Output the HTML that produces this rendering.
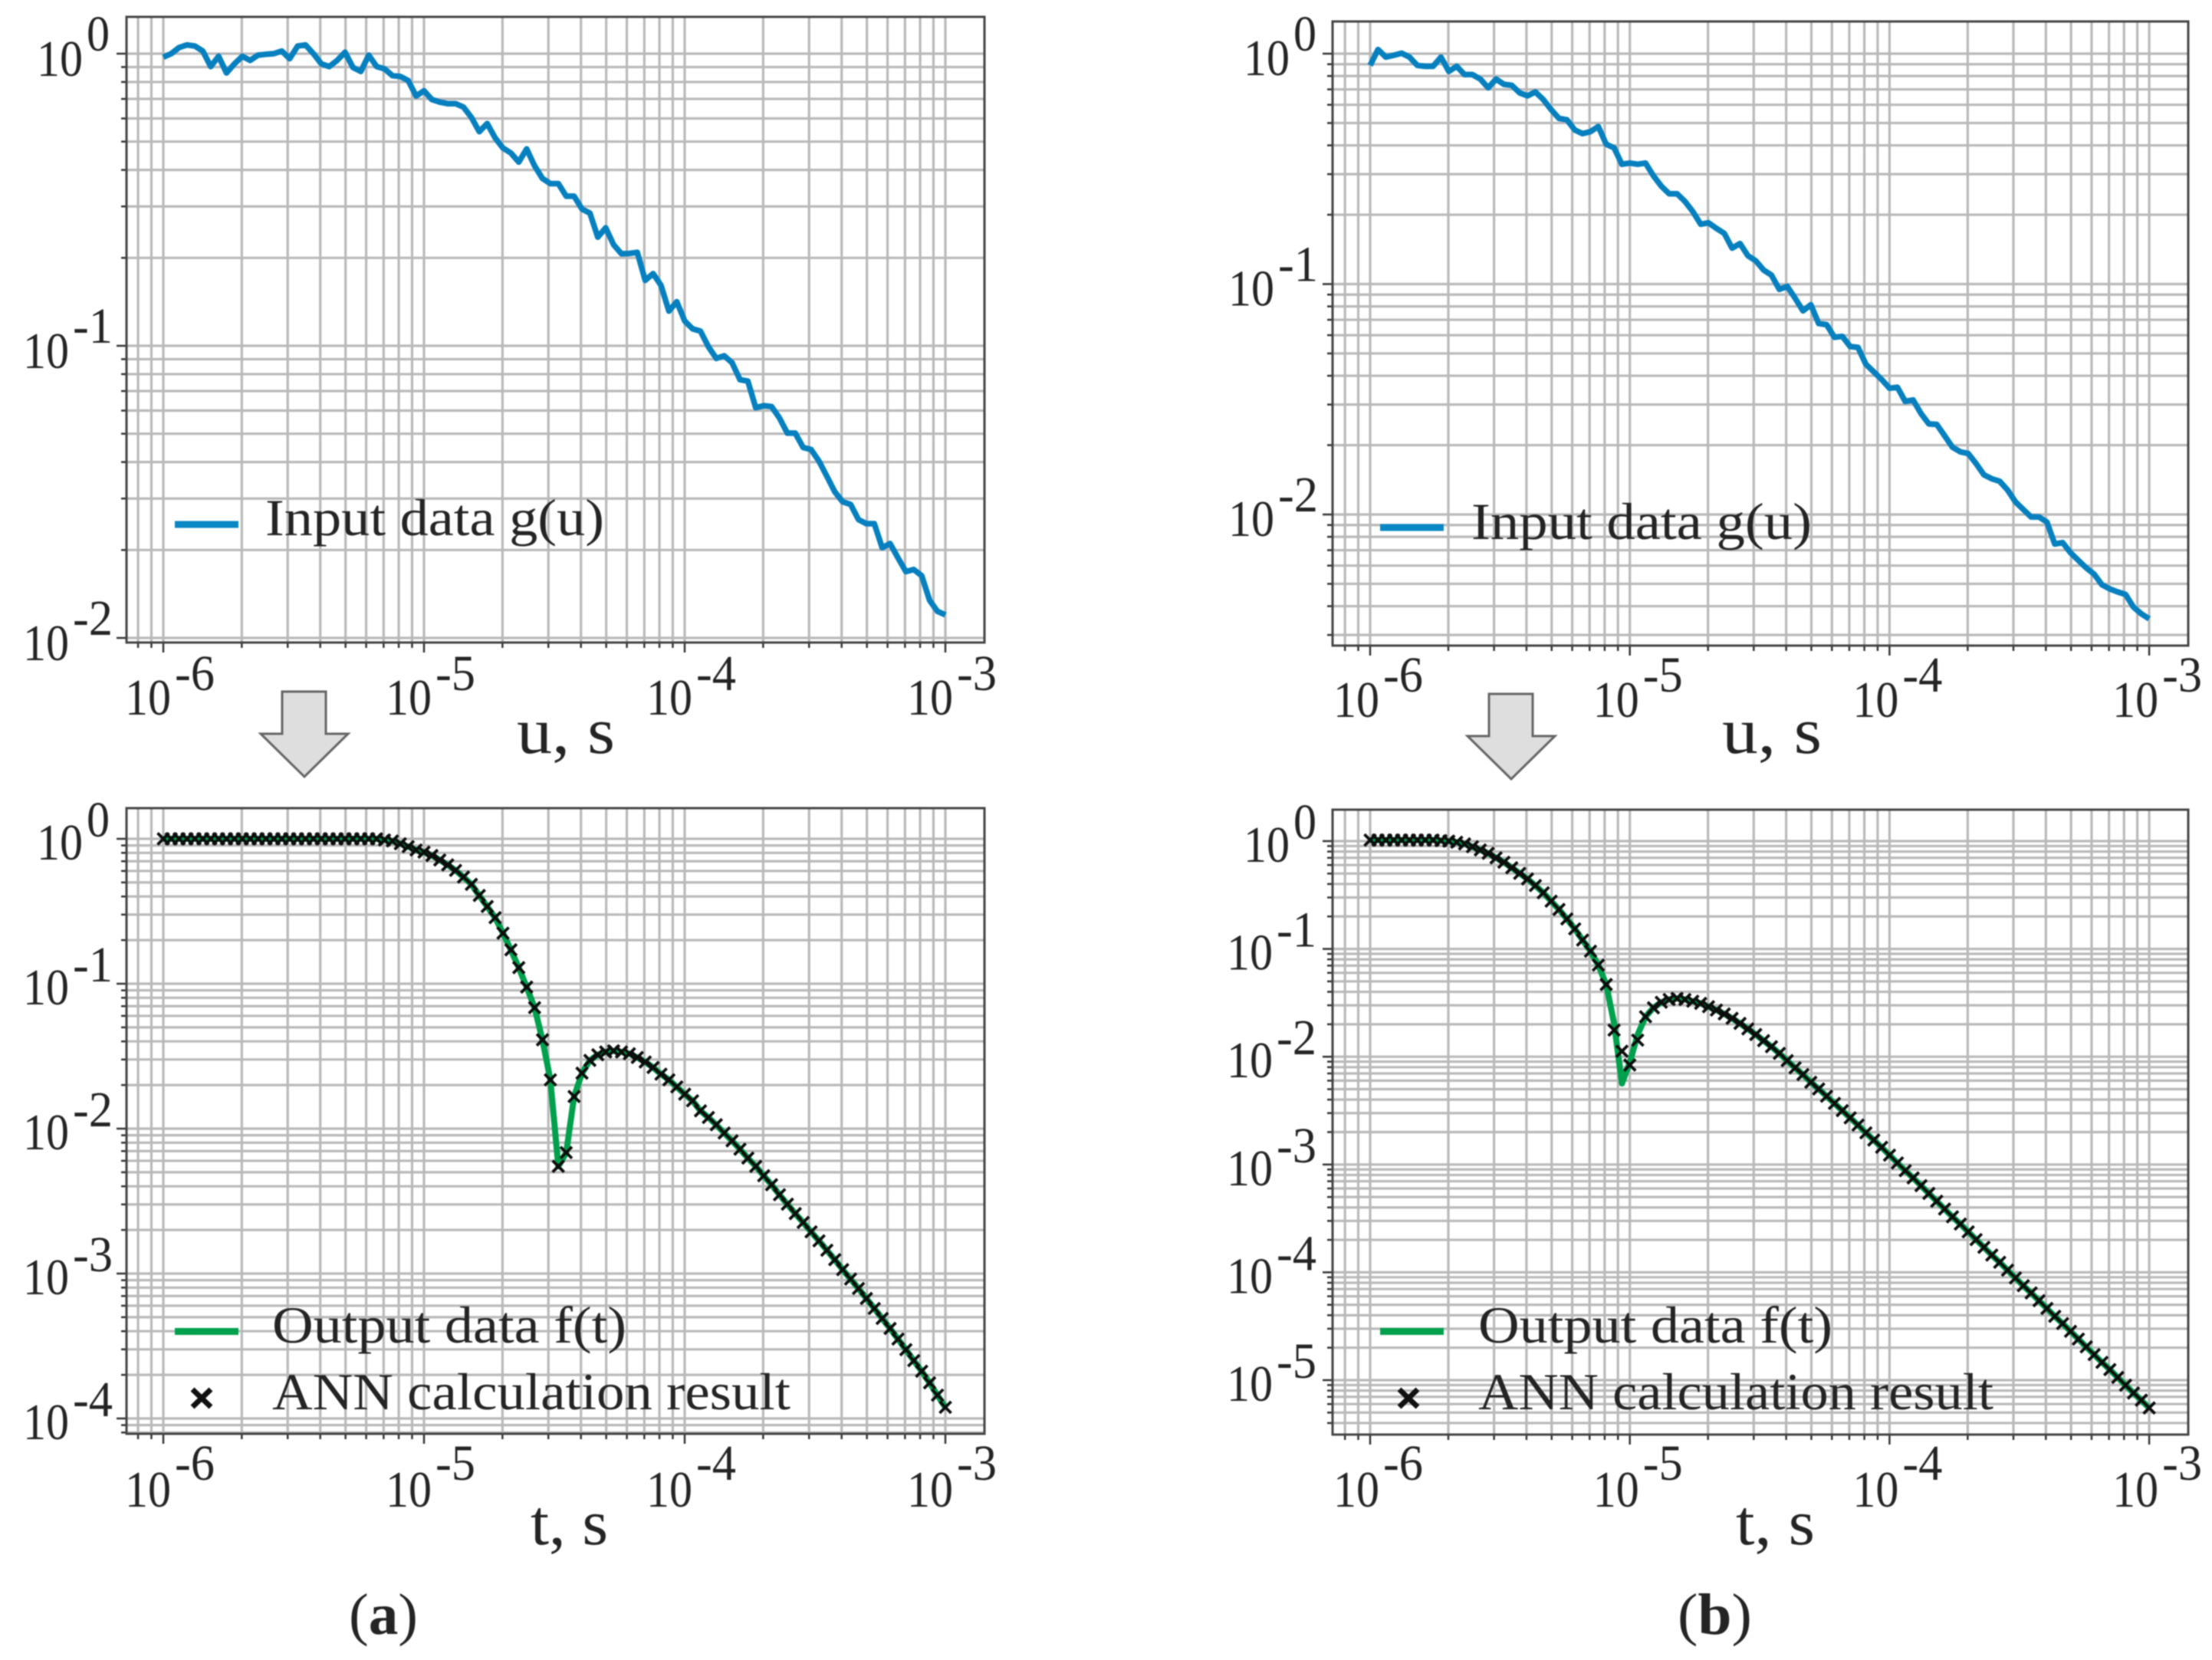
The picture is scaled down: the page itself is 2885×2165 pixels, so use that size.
<!DOCTYPE html>
<html lang="en">
<head>
<meta charset="utf-8">
<title>Input data and ANN output, panels a and b</title>
<style>
html,body{margin:0;padding:0;background:#fff}
svg{display:block;filter:blur(0.7px)}
text{font-family:"Liberation Serif",serif;fill:#242424}
</style>
</head>
<body>
<svg id="figure" xmlns="http://www.w3.org/2000/svg" width="2885" height="2165" viewBox="0 0 2885 2165">
  <rect width="2885" height="2165" fill="#fff"/>
  <g id="plots"></g>

  <g>
    <line x1="228" x2="311" y1="684" y2="684" stroke="#0a88c6" stroke-width="9"/>
    <text x="346" y="698" font-size="68" textLength="442" lengthAdjust="spacingAndGlyphs">Input data g(u)</text>
  </g>
  <g>
    <line x1="228" x2="311" y1="1736.5" y2="1736.5" stroke="#00a04c" stroke-width="9"/>
    <text x="355" y="1751" font-size="68" textLength="462" lengthAdjust="spacingAndGlyphs">Output data f(t)</text>
    <path d="M251 1812L275 1835M275 1812L251 1835" stroke="#111" stroke-width="7" fill="none"/>
    <text x="355" y="1838" font-size="68" textLength="676" lengthAdjust="spacingAndGlyphs">ANN calculation result</text>
  </g>
  <g>
    <line x1="1800" x2="1883" y1="688" y2="688" stroke="#0a88c6" stroke-width="9"/>
    <text x="1919" y="703" font-size="68" textLength="444" lengthAdjust="spacingAndGlyphs">Input data g(u)</text>
  </g>
  <g>
    <line x1="1800" x2="1883" y1="1736.5" y2="1736.5" stroke="#00a04c" stroke-width="9"/>
    <text x="1928" y="1751" font-size="68" textLength="462" lengthAdjust="spacingAndGlyphs">Output data f(t)</text>
    <path d="M1825 1812L1849 1835M1849 1812L1825 1835" stroke="#111" stroke-width="7" fill="none"/>
    <text x="1928" y="1838" font-size="68" textLength="672" lengthAdjust="spacingAndGlyphs">ANN calculation result</text>
  </g>

  <text x="674" y="982" font-size="86" textLength="128" lengthAdjust="spacingAndGlyphs">u, s</text>
  <text x="692" y="2014" font-size="84" textLength="101" lengthAdjust="spacingAndGlyphs">t, s</text>
  <text x="2246" y="982" font-size="86" textLength="130" lengthAdjust="spacingAndGlyphs">u, s</text>
  <text x="2264" y="2014" font-size="84" textLength="103" lengthAdjust="spacingAndGlyphs">t, s</text>

  <path d="M368 902H425V957H454L397 1013L340 957H368Z" fill="#dedede" stroke="#666" stroke-width="3"/>
  <path d="M1942 905H1999V960H2028L1971 1016L1914 960H1942Z" fill="#dedede" stroke="#666" stroke-width="3"/>

  <text x="455" y="2131" font-size="76" textLength="90" lengthAdjust="spacingAndGlyphs">(<tspan font-weight="bold">a</tspan>)</text>
  <text x="2188" y="2131" font-size="76" textLength="97" lengthAdjust="spacingAndGlyphs">(<tspan font-weight="bold">b</tspan>)</text>
</svg>

<script>
// Samples are evenly spaced in log10(time) between these exponents.
const sampleStartExp = -6;
const sampleEndExp = -3;

// Tick labels (powers of ten).
const xTickExps = [-6, -5, -4, -3];
const yTickExpsInputA = [0, -1, -2];
const yTickExpsOutputA = [0, -1, -2, -3, -4];
const yTickExpsInputB = [0, -1, -2];
const yTickExpsOutputB = [0, -1, -2, -3, -4, -5];

// Series values, as log10 of the plotted quantity.
const inputLogA = [-0.012,0,0.021,0.030,0.026,0.009,-0.044,-0.009,-0.066,-0.035,-0.009,-0.023,-0.005,-0.002,0,0.009,-0.017,0.026,0.030,0,-0.035,-0.044,-0.023,0.005,-0.047,-0.061,-0.005,-0.044,-0.052,-0.075,-0.078,-0.092,-0.145,-0.127,-0.157,-0.166,-0.171,-0.171,-0.183,-0.218,-0.267,-0.239,-0.288,-0.323,-0.340,-0.371,-0.326,-0.384,-0.427,-0.445,-0.445,-0.488,-0.488,-0.532,-0.546,-0.628,-0.596,-0.654,-0.685,-0.684,-0.680,-0.776,-0.753,-0.793,-0.881,-0.849,-0.915,-0.942,-0.950,-1.003,-1.043,-1.034,-1.058,-1.116,-1.121,-1.212,-1.205,-1.208,-1.247,-1.299,-1.299,-1.348,-1.355,-1.395,-1.447,-1.500,-1.534,-1.543,-1.595,-1.609,-1.609,-1.691,-1.677,-1.726,-1.773,-1.766,-1.787,-1.871,-1.909,-1.921];

const inputLogB = [-0.051,0.018,-0.015,-0.007,0.002,-0.015,-0.051,-0.055,-0.055,-0.015,-0.077,-0.055,-0.091,-0.091,-0.110,-0.148,-0.110,-0.133,-0.137,-0.170,-0.183,-0.166,-0.199,-0.243,-0.281,-0.287,-0.331,-0.347,-0.338,-0.316,-0.393,-0.409,-0.480,-0.475,-0.480,-0.475,-0.530,-0.575,-0.608,-0.608,-0.641,-0.685,-0.740,-0.734,-0.758,-0.780,-0.844,-0.824,-0.877,-0.899,-0.939,-0.961,-1.023,-1.010,-1.061,-1.116,-1.090,-1.171,-1.176,-1.231,-1.227,-1.271,-1.275,-1.348,-1.381,-1.414,-1.452,-1.448,-1.509,-1.503,-1.562,-1.607,-1.609,-1.658,-1.708,-1.728,-1.735,-1.779,-1.828,-1.845,-1.856,-1.894,-1.945,-1.978,-2.011,-2.011,-2.033,-2.128,-2.122,-2.166,-2.199,-2.232,-2.259,-2.305,-2.323,-2.336,-2.347,-2.402,-2.431,-2.453];

const outputLogA = [0,0,0,0,0,0,0,0,0,0,0,0,0,0,0,0,0,0,0,0,0,0,0,0,0,0,0,0,-0.008,-0.015,-0.034,-0.054,-0.077,-0.092,-0.115,-0.146,-0.180,-0.218,-0.264,-0.314,-0.391,-0.467,-0.544,-0.651,-0.766,-0.889,-1.023,-1.165,-1.387,-1.663,-2.260,-2.165,-1.778,-1.617,-1.529,-1.490,-1.471,-1.463,-1.471,-1.483,-1.509,-1.540,-1.578,-1.624,-1.663,-1.712,-1.762,-1.808,-1.877,-1.923,-1.973,-2.030,-2.084,-2.142,-2.203,-2.260,-2.325,-2.387,-2.456,-2.521,-2.586,-2.647,-2.712,-2.774,-2.839,-2.904,-2.973,-3.038,-3.103,-3.172,-3.241,-3.310,-3.379,-3.452,-3.525,-3.601,-3.674,-3.754,-3.839,-3.923];

const annLogA = [0,0,0,0,0,0,0,0,0,0,0,0,0,0,0,0,0,0,0,0,0,0,0,0,0,0,0,0,-0.008,-0.015,-0.034,-0.054,-0.077,-0.092,-0.115,-0.146,-0.180,-0.218,-0.264,-0.314,-0.391,-0.467,-0.544,-0.651,-0.766,-0.889,-1.023,-1.165,-1.387,-1.663,-2.260,-2.165,-1.778,-1.617,-1.529,-1.490,-1.471,-1.463,-1.471,-1.483,-1.509,-1.540,-1.578,-1.624,-1.663,-1.712,-1.762,-1.808,-1.877,-1.923,-1.973,-2.030,-2.084,-2.142,-2.203,-2.260,-2.325,-2.387,-2.456,-2.521,-2.586,-2.647,-2.712,-2.774,-2.839,-2.904,-2.973,-3.038,-3.103,-3.172,-3.241,-3.310,-3.379,-3.452,-3.525,-3.601,-3.674,-3.754,-3.839,-3.923];

const outputLogB = [0.010,0.010,0.010,0.010,0.010,0.010,0.010,0.010,0.010,0.005,0,-0.010,-0.026,-0.052,-0.082,-0.113,-0.155,-0.196,-0.247,-0.299,-0.351,-0.412,-0.479,-0.557,-0.634,-0.722,-0.814,-0.918,-1.021,-1.150,-1.330,-1.691,-2.248,-2.052,-1.794,-1.629,-1.546,-1.495,-1.469,-1.459,-1.469,-1.485,-1.505,-1.536,-1.567,-1.603,-1.644,-1.691,-1.742,-1.794,-1.851,-1.907,-1.969,-2.036,-2.103,-2.165,-2.237,-2.299,-2.366,-2.433,-2.500,-2.567,-2.634,-2.706,-2.773,-2.840,-2.913,-2.985,-3.057,-3.124,-3.196,-3.268,-3.340,-3.413,-3.485,-3.552,-3.624,-3.696,-3.768,-3.840,-3.907,-3.980,-4.052,-4.124,-4.191,-4.263,-4.335,-4.408,-4.475,-4.547,-4.619,-4.691,-4.763,-4.835,-4.902,-4.975,-5.047,-5.119,-5.186,-5.258];

const annLogB = [0.010,0.010,0.010,0.010,0.010,0.010,0.010,0.010,0.010,0.005,0,-0.010,-0.026,-0.052,-0.082,-0.113,-0.155,-0.196,-0.247,-0.299,-0.351,-0.412,-0.479,-0.557,-0.634,-0.722,-0.814,-0.918,-1.021,-1.150,-1.330,-1.753,-1.949,-2.077,-1.846,-1.629,-1.546,-1.495,-1.469,-1.459,-1.469,-1.485,-1.505,-1.536,-1.567,-1.603,-1.644,-1.691,-1.742,-1.794,-1.851,-1.907,-1.969,-2.036,-2.103,-2.165,-2.237,-2.299,-2.366,-2.433,-2.500,-2.567,-2.634,-2.706,-2.773,-2.840,-2.913,-2.985,-3.057,-3.124,-3.196,-3.268,-3.340,-3.413,-3.485,-3.552,-3.624,-3.696,-3.768,-3.840,-3.907,-3.980,-4.052,-4.124,-4.191,-4.263,-4.335,-4.408,-4.475,-4.547,-4.619,-4.691,-4.763,-4.835,-4.902,-4.975,-5.047,-5.119,-5.186,-5.258];

const SVG_NS = 'http://www.w3.org/2000/svg';
const plotsRoot = document.getElementById('plots');

function mk(parent, tag, name, attrs) {
  const el = document.createElementNS(SVG_NS, tag);
  
  
  for (const k in attrs) el.setAttribute(k, attrs[k]);
  parent.appendChild(el);
  return el;
}

function powerLabel(parent, name, exp, startX, baseY, expBaseY) {
  const g = mk(parent, 'g', name, {});
  const base = mk(g, 'text', name + '-base', {x: startX, y: baseY, 'font-size': 67, textLength: 60, lengthAdjust: 'spacingAndGlyphs'});
  base.textContent = '10';
  const negative = exp < 0;
  const exponent = mk(g, 'text', name + '-exponent', {x: startX + 65, y: expBaseY, 'font-size': 66, textLength: negative ? 52 : 30, lengthAdjust: 'spacingAndGlyphs'});
  exponent.textContent = String(exp);
}

function drawPanel(p) {
  const root = mk(plotsRoot, 'g', p.name, {});
  const xOf = e => p.x0 + (e + 6) * p.xDecade;
  const yOf = v => p.y0 - v * p.yDecade;
  const clipId = p.name + '-clip';
  const defs = mk(root, 'defs', p.name + '-defs', {});
  const clip = mk(defs, 'clipPath', p.name + '-clip-path', {id: clipId});
  mk(clip, 'rect', p.name + '-clip-rect', {x: p.left, y: p.top, width: p.right - p.left, height: p.bottom - p.top});

  const grid = mk(root, 'g', p.name + '-grid', {stroke: '#b9b9b9', 'stroke-width': 3.2});
  const ticks = mk(root, 'g', p.name + '-ticks', {stroke: '#333', 'stroke-width': 2.5});
  for (let d = -8; d < 0; d++) {
    for (let m = 1; m < 10; m++) {
      const x = xOf(d + Math.log10(m));
      if (x < p.left || x > p.right) continue;
      mk(grid, 'line', p.name + '-x-gridline', {x1: x, x2: x, y1: p.top, y2: p.bottom});
      mk(ticks, 'line', p.name + '-x-tick', {x1: x, x2: x, y1: p.bottom, y2: p.bottom + (m === 1 ? 13 : 7)});
    }
  }
  for (let d = -8; d < 2; d++) {
    for (let m = 1; m < 10; m++) {
      const y = yOf(d + Math.log10(m));
      if (y < p.top || y > p.bottom) continue;
      mk(grid, 'line', p.name + '-y-gridline', {x1: p.left, x2: p.right, y1: y, y2: y});
      mk(ticks, 'line', p.name + '-y-tick', {x1: p.left - (m === 1 ? 13 : 7), x2: p.left, y1: y, y2: y});
    }
  }
  mk(root, 'rect', p.name + '-frame', {x: p.left, y: p.top, width: p.right - p.left, height: p.bottom - p.top, fill: 'none', stroke: '#444', 'stroke-width': 3});

  const series = mk(root, 'g', p.name + '-series', {'clip-path': 'url(#' + clipId + ')'});
  const n = p.line.length;
  const sx = i => xOf(sampleStartExp + (sampleEndExp - sampleStartExp) * i / (n - 1));
  const pts = p.line.map((v, i) => sx(i).toFixed(1) + ',' + yOf(v).toFixed(1)).join(' ');
  mk(series, 'polyline', p.name + '-line', {points: pts, fill: 'none', stroke: p.color, 'stroke-width': p.lineWidth, 'stroke-linejoin': 'round'});
  if (p.markers) {
    const markerGroup = mk(series, 'g', p.name + '-ann-markers', {stroke: '#0d0d0d', 'stroke-width': 3.8, fill: 'none'});
    p.markers.forEach((v, i) => {
      const mx = xOf(sampleStartExp + (sampleEndExp - sampleStartExp) * i / (p.markers.length - 1));
      const my = yOf(v);
      const h = 7.5;
      mk(markerGroup, 'path', p.name + '-ann-marker', {d: 'M' + (mx - h) + ' ' + (my - h) + 'L' + (mx + h) + ' ' + (my + h) + 'M' + (mx + h) + ' ' + (my - h) + 'L' + (mx - h) + ' ' + (my + h)});
    });
  }

  const labels = mk(root, 'g', p.name + '-tick-labels', {});
  xTickExps.forEach(e => {
    powerLabel(labels, p.name + '-x-label', e, xOf(e) - p.xLabelShift, p.xBase, p.xExpBase);
  });
  p.yTicks.forEach(e => {
    const start = e === 0 ? p.yStartZero : p.yStartNeg;
    powerLabel(labels, p.name + '-y-label', e, start, yOf(e) + p.yBaseOff, yOf(e) + p.yExpOff);
  });
}

drawPanel({name: 'panel-a-input', left: 165, right: 1284, top: 22, bottom: 838, x0: 213, xDecade: 340, y0: 70, yDecade: 381, line: inputLogA, color: '#0780bf', lineWidth: 7.5, yTicks: yTickExpsInputA, xLabelShift: 50, xBase: 932, xExpBase: 900, yStartZero: 48, yStartNeg: 30, yBaseOff: 29, yExpOff: -4});
drawPanel({name: 'panel-a-output', left: 165, right: 1284, top: 1054, bottom: 1870, x0: 213, xDecade: 340, y0: 1094, yDecade: 189, line: outputLogA, markers: annLogA, color: '#00a04c', lineWidth: 8, yTicks: yTickExpsOutputA, xLabelShift: 50, xBase: 1965, xExpBase: 1930, yStartZero: 48, yStartNeg: 30, yBaseOff: 27, yExpOff: -3});
drawPanel({name: 'panel-b-input', left: 1738, right: 2854, top: 28, bottom: 842, x0: 1787, xDecade: 338.7, y0: 70, yDecade: 300.5, line: inputLogB, color: '#0780bf', lineWidth: 7.5, yTicks: yTickExpsInputB, xLabelShift: 48, xBase: 935, xExpBase: 902, yStartZero: 1622, yStartNeg: 1602, yBaseOff: 28, yExpOff: -4});
drawPanel({name: 'panel-b-output', left: 1738, right: 2854, top: 1056, bottom: 1871, x0: 1787, xDecade: 338.7, y0: 1097, yDecade: 140.6, line: outputLogB, markers: annLogB, color: '#00a04c', lineWidth: 8, yTicks: yTickExpsOutputB, xLabelShift: 48, xBase: 1965, xExpBase: 1930, yStartZero: 1622, yStartNeg: 1600, yBaseOff: 27, yExpOff: -3});
</script>
</body>
</html>
